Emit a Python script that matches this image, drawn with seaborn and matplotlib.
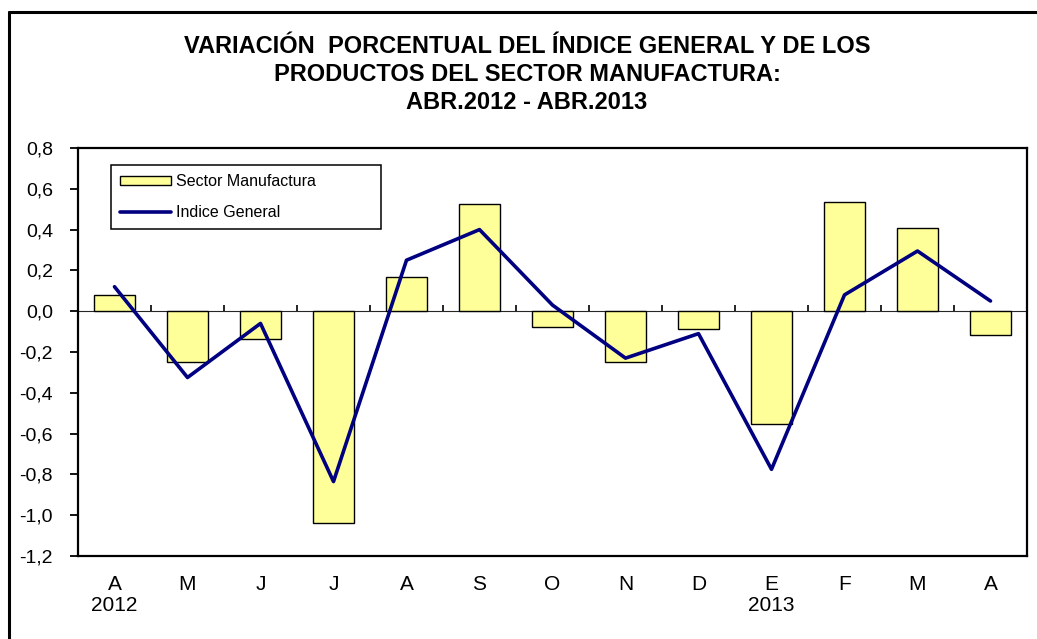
"""Variación porcentual del índice general y del sector manufactura."""

import matplotlib

matplotlib.use("Agg")

import matplotlib.pyplot as plt
import numpy as np
import pandas as pd
import seaborn as sns
from matplotlib.lines import Line2D

# datos
months = ["A", "M", "J", "J", "A", "S", "O", "N", "D", "E", "F", "M", "A"]
years = ["2012", "", "", "", "", "", "", "", "", "2013", "", "", ""]
sector_manufactura = [0.08, -0.25, -0.135, -1.04, 0.17, 0.525, -0.075,
                      -0.25, -0.085, -0.555, 0.535, 0.41, -0.115]
indice_general = [0.12, -0.325, -0.06, -0.835, 0.25, 0.40, 0.03,
                  -0.23, -0.11, -0.775, 0.08, 0.295, 0.05]
ytick_values = [-1.2, -1.0, -0.8, -0.6, -0.4, -0.2, 0.0, 0.2, 0.4, 0.6, 0.8]
ytick_labels = ["-1,2", "-1,0", "-0,8", "-0,6", "-0,4", "-0,2",
                "0,0", "0,2", "0,4", "0,6", "0,8"]
title_lines = [
    "VARIACIÓN  PORCENTUAL DEL ÍNDICE GENERAL Y DE LOS",
    "PRODUCTOS DEL SECTOR MANUFACTURA:",
    "ABR.2012 - ABR.2013",
]

df = pd.DataFrame({
    "pos": range(len(months)),
    "manuf": sector_manufactura,
    "general": indice_general,
})

sns.set_style("white")
plt.rcParams["font.family"] = ["Liberation Sans", "DejaVu Sans"]
plt.rcParams["text.color"] = "black"
plt.rcParams["xtick.color"] = "black"
plt.rcParams["ytick.color"] = "black"

W, H = 1037, 639
fig = plt.figure(figsize=(W / 100, H / 100), dpi=100)
ax = fig.add_axes([78 / W, (H - 556) / H, 949 / W, 408 / H])

sns.barplot(data=df, x="pos", y="manuf", color="#FFFF99", saturation=1,
            width=0.56, edgecolor="black", linewidth=1.0, ax=ax, zorder=2)
sns.lineplot(data=df, x="pos", y="general", color="#000080", linewidth=2.6,
             ax=ax, zorder=3)

ax.set_xlim(-0.5, len(months) - 0.5)
ax.set_ylim(-1.2, 0.8)
ax.set_xlabel("")
ax.set_ylabel("")

ax.set_yticks(ytick_values)
ax.set_yticklabels(ytick_labels, fontsize=14)
ax.tick_params(axis="y", direction="out", length=6, width=1.3, color="black",
               labelcolor="black", pad=12, left=True)

xlabels = [m if not y else f"{m}\n{y}" for m, y in zip(months, years)]
ax.set_xticks(df["pos"])
ax.set_xticklabels(xlabels, fontsize=15, linespacing=1.1)
ax.tick_params(axis="x", length=0, pad=14, labelcolor="black")

for side in ["left", "right", "top", "bottom"]:
    ax.spines[side].set_visible(True)
    ax.spines[side].set_color("black")
    ax.spines[side].set_linewidth(1.6)

# línea del cero con marcas entre categorías
zero_frac = (0 - (-1.2)) / 2.0
sec = ax.secondary_xaxis(zero_frac)
sec.set_xticks(np.arange(-0.5, len(months), 1.0))
sec.set_xticklabels([])
sec.tick_params(axis="x", direction="out", length=4, width=1.2, color="black")
sec.spines["bottom"].set_color("#808080")
sec.spines["bottom"].set_linewidth(1.5)

handles = [
    plt.Rectangle((0, 0), 1, 1, facecolor="#FFFF99", edgecolor="black", linewidth=1.0),
    Line2D([], [], color="#000080", linewidth=2.6),
]
leg = ax.legend(handles, ["Sector Manufactura", "Indice General"],
                loc="upper left", bbox_to_anchor=(33 / 949, 391 / 408, 270 / 949, 0.0),
                mode="expand", alignment="center", borderaxespad=0, borderpad=0.55,
                fontsize=11.5, handlelength=3.2, handleheight=0.5, handletextpad=0.35,
                labelspacing=1.0, fancybox=False, framealpha=1, edgecolor="black")
leg.get_frame().set_linewidth(1.1)
for txt in leg.get_texts():
    txt.set_color("black")

baselines = [53, 81, 109]
for line, yb in zip(title_lines, baselines):
    fig.text(527 / W, 1 - yb / H, line, ha="center", va="baseline",
             fontsize=17, fontweight="bold", color="black")

# marco exterior del gráfico
fig.add_artist(Line2D([9 / W, 9 / W], [0, 1 - 12 / H], color="black",
                      linewidth=2.2, transform=fig.transFigure))
fig.add_artist(Line2D([9 / W, 1], [1 - 12 / H, 1 - 12 / H], color="black",
                      linewidth=2.2, transform=fig.transFigure))

fig.savefig("out.png", dpi=100, facecolor="white")
